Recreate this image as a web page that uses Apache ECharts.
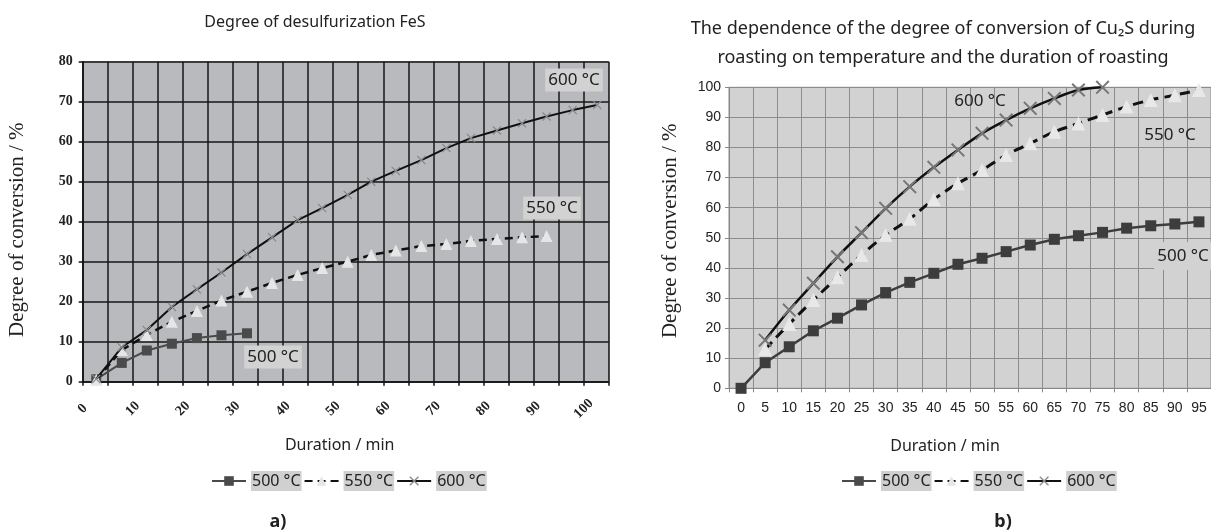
<!DOCTYPE html>
<html>
<head>
<meta charset="utf-8">
<script src="https://cdn.jsdelivr.net/npm/echarts@6/dist/echarts.min.js"></script>
<style>
  html, body { margin: 0; padding: 0; background: #ffffff; }
  #chart { width: 1211px; height: 531px; }
</style>
</head>
<body>
<div id="chart"></div>
<script>
// ---- Data: a) Degree of desulfurization FeS ----
var fesDuration = [2.7, 7.8, 12.8, 17.8, 22.8, 27.7, 32.8, 37.8, 42.9, 47.8, 52.9, 57.6, 62.5, 67.6, 72.6, 77.5, 82.7, 87.7, 92.6, 97.8, 102.7];
var fes500 = [0.6, 4.7, 7.8, 9.5, 10.9, 11.6, 12.1];
var fes550 = [0.5, 7.9, 11.7, 15.0, 17.7, 20.3, 22.5, 24.7, 26.7, 28.4, 30.0, 31.7, 32.8, 33.9, 34.4, 35.2, 35.7, 36.1, 36.4];
var fes600 = [0.7, 8.6, 12.9, 18.7, 23.1, 27.3, 31.9, 36.1, 40.4, 43.4, 46.7, 50.0, 52.7, 55.4, 58.4, 60.9, 62.8, 64.6, 66.3, 67.9, 69.2];

// ---- Data: b) Conversion of Cu2S ----
var cuDuration = ['0','5','10','15','20','25','30','35','40','45','50','55','60','65','70','75','80','85','90','95'];
var cu500 = [0, 8.5, 13.8, 19.1, 23.3, 27.7, 31.8, 35.2, 38.2, 41.2, 43.2, 45.4, 47.6, 49.5, 50.7, 51.8, 53.2, 54.0, 54.6, 55.3];
var cu550 = [null, 13.0, 21.4, 29.3, 36.9, 44.3, 50.9, 56.3, 62.8, 68.1, 72.5, 77.5, 81.4, 85.2, 88.0, 90.8, 93.6, 95.8, 97.4, 99.1];
var cu600 = [null, 16.0, 26.0, 34.9, 43.7, 51.7, 59.8, 67.0, 73.4, 79.2, 84.7, 89.1, 93.0, 96.3, 99.1, 100, null, null, null, null];

var seriesNames = ['500 °C', '550 °C', '600 °C'];

function pairs(xs, ys) {
  return ys.map(function (y, i) { return [xs[i], y]; });
}

var xSymbol = 'path://M0,1 L1,0 L5,4 L9,0 L10,1 L6,5 L10,9 L9,10 L5,6 L1,10 L0,9 L4,5 Z';
var sans = '"Noto Sans", "Open Sans", sans-serif';
var serif = '"Liberation Serif", "DejaVu Serif", serif';
var arial = '"Liberation Sans", Arial, sans-serif';

var chart = echarts.init(document.getElementById('chart'), null, { renderer: 'canvas' });

var legendBase = {
  data: seriesNames,
  orient: 'horizontal',
  itemWidth: 34,
  itemHeight: 12,
  itemGap: 2,
  selectedMode: false,
  textStyle: { fontFamily: sans, fontSize: 16, color: '#222', backgroundColor: '#d0d0d0', padding: [2, 1, 2, 1] }
};

var option = {
  backgroundColor: '#ffffff',
  animation: false,
  title: [
    { text: 'Degree of desulfurization FeS', left: 310, top: 9, textAlign: 'center',
      textStyle: { fontFamily: sans, fontSize: 16, fontWeight: 'normal', color: '#222' } },
    { text: 'The dependence of the degree of conversion of Cu₂S during\nroasting on temperature and the duration of roasting',
      left: 938, top: 9, textAlign: 'center',
      textStyle: { fontFamily: sans, fontSize: 18, fontWeight: 'normal', color: '#222', lineHeight: 29 } }
  ],
  legend: [
    Object.assign({}, legendBase, { left: 206, top: 466 }),
    Object.assign({}, legendBase, { left: 836, top: 466 })
  ],
  grid: [
    { left: 82.7, top: 61.7, width: 526, height: 320, show: true, backgroundColor: '#b9babd', borderColor: '#9a9a9a', borderWidth: 1 },
    { left: 729, top: 87.3, width: 488, height: 301, show: true, backgroundColor: '#d2d2d2', borderColor: '#8c8c8c', borderWidth: 1 }
  ],
  xAxis: [
    {
      gridIndex: 0, type: 'value', min: 0, max: 105, interval: 5,
      name: 'Duration / min', nameLocation: 'middle', nameGap: 56,
      nameTextStyle: { fontFamily: sans, fontSize: 16, color: '#222', padding: [0, 12, 0, 0] },
      axisLine: { show: true, lineStyle: { color: '#111', width: 1.5 } },
      axisTick: { show: true, inside: false, length: 4, lineStyle: { color: '#111', width: 1.5 } },
      axisLabel: {
        rotate: 45, align: 'center', verticalAlign: 'middle', margin: 27,
        fontFamily: serif, fontWeight: 'bold', fontSize: 14, color: '#222',
        formatter: function (v) { return (v % 10 === 0 && v <= 100) ? String(v) : ''; }
      },
      splitLine: { show: true, lineStyle: { color: '#161616', width: 1.5 } }
    },
    {
      gridIndex: 1, type: 'category', data: cuDuration, boundaryGap: true,
      name: 'Duration / min', nameLocation: 'middle', nameGap: 50,
      nameTextStyle: { fontFamily: sans, fontSize: 16, color: '#222', padding: [0, 50, 0, 0] },
      axisLine: { show: true, lineStyle: { color: '#888', width: 1 } },
      axisTick: { show: true, inside: false, length: 4, alignWithLabel: false, lineStyle: { color: '#888' } },
      axisLabel: { fontFamily: arial, fontSize: 14, color: '#222', margin: 13, interval: 0 },
      splitLine: { show: true, interval: 0, lineStyle: { color: '#8c8c8c', width: 1 } }
    }
  ],
  yAxis: [
    {
      gridIndex: 0, type: 'value', min: 0, max: 80, interval: 10,
      name: 'Degree of conversion / %', nameLocation: 'middle', nameGap: 55,
      nameTextStyle: { fontFamily: serif, fontSize: 21, color: '#222', padding: [0, 16, 0, 0] },
      axisLine: { show: true, lineStyle: { color: '#111', width: 1.5 } },
      axisTick: { show: true, inside: false, length: 4, lineStyle: { color: '#111', width: 1.5 } },
      axisLabel: { fontFamily: serif, fontWeight: 'bold', fontSize: 14, color: '#222', margin: 10 },
      splitLine: { show: true, lineStyle: { color: '#161616', width: 1.5 } }
    },
    {
      gridIndex: 1, type: 'value', min: 0, max: 100, interval: 10,
      name: 'Degree of conversion / %', nameLocation: 'middle', nameGap: 48,
      nameTextStyle: { fontFamily: serif, fontSize: 21, color: '#222', padding: [0, 0, 0, 14] },
      axisLine: { show: true, lineStyle: { color: '#888', width: 1 } },
      axisTick: { show: true, inside: false, length: 4, lineStyle: { color: '#888' } },
      axisLabel: { fontFamily: arial, fontSize: 14, color: '#222', margin: 8 },
      splitLine: { show: true, lineStyle: { color: '#8c8c8c', width: 1 } }
    }
  ],
  series: [
    // a) FeS
    { name: '500 °C', type: 'line', xAxisIndex: 0, yAxisIndex: 0, data: pairs(fesDuration, fes500),
      symbol: 'rect', symbolSize: 10, lineStyle: { color: '#4a4a4a', width: 2 },
      itemStyle: { color: '#4a4a4a' }, z: 3 },
    { name: '550 °C', type: 'line', xAxisIndex: 0, yAxisIndex: 0, data: pairs(fesDuration, fes550),
      symbol: 'triangle', symbolSize: 12, lineStyle: { color: '#111', width: 2.5, type: [8, 5] },
      itemStyle: { color: '#e6e6e6' }, z: 4 },
    { name: '600 °C', type: 'line', xAxisIndex: 0, yAxisIndex: 0, data: pairs(fesDuration, fes600),
      symbol: xSymbol, symbolSize: 9, lineStyle: { color: '#111', width: 2 },
      itemStyle: { color: '#8a8a8a' }, z: 5 },
    // b) Cu2S
    { name: '500 °C', type: 'line', xAxisIndex: 1, yAxisIndex: 1, data: cu500,
      symbol: 'rect', symbolSize: 11, lineStyle: { color: '#3d3d3d', width: 2.5 },
      itemStyle: { color: '#3d3d3d' }, z: 3 },
    { name: '550 °C', type: 'line', xAxisIndex: 1, yAxisIndex: 1, data: cu550, smooth: 0.3,
      symbol: 'triangle', symbolSize: 14, lineStyle: { color: '#111', width: 3, type: [10, 6] },
      itemStyle: { color: '#e8e8e8' }, z: 4 },
    { name: '600 °C', type: 'line', xAxisIndex: 1, yAxisIndex: 1, data: cu600, smooth: 0.3,
      symbol: xSymbol, symbolSize: 14, lineStyle: { color: '#111', width: 2.5 },
      itemStyle: { color: '#777' }, z: 5 }
  ],
  graphic: [
    { type: 'text', x: 574, y: 80, z: 20, style: { text: '600 °C', align: 'center', verticalAlign: 'middle', font: '17px ' + sans, fill: '#222', backgroundColor: '#d2d2d2', padding: [3, 3] } },
    { type: 'text', x: 552, y: 208, z: 20, style: { text: '550 °C', align: 'center', verticalAlign: 'middle', font: '17px ' + sans, fill: '#222', backgroundColor: '#d2d2d2', padding: [3, 3] } },
    { type: 'text', x: 273, y: 357, z: 20, style: { text: '500 °C', align: 'center', verticalAlign: 'middle', font: '17px ' + sans, fill: '#222', backgroundColor: '#d2d2d2', padding: [3, 3] } },
    { type: 'text', x: 980, y: 101, z: 20, style: { text: '600 °C', align: 'center', verticalAlign: 'middle', font: '17px ' + sans, fill: '#222' } },
    { type: 'text', x: 1170, y: 135, z: 20, style: { text: '550 °C', align: 'center', verticalAlign: 'middle', font: '17px ' + sans, fill: '#222' } },
    { type: 'text', x: 1183, y: 256, z: 20, style: { text: '500 °C', align: 'center', verticalAlign: 'middle', font: '17px ' + sans, fill: '#222', backgroundColor: '#d2d2d2', padding: [3, 3, 8, 3] } },
    { type: 'text', x: 278, y: 522, z: 20, style: { text: 'a)', align: 'center', verticalAlign: 'middle', font: 'bold 18px ' + sans, fill: '#222' } },
    { type: 'text', x: 1003, y: 522, z: 20, style: { text: 'b)', align: 'center', verticalAlign: 'middle', font: 'bold 18px ' + sans, fill: '#222' } }
  ]
};

chart.setOption(option);
</script>
</body>
</html>
